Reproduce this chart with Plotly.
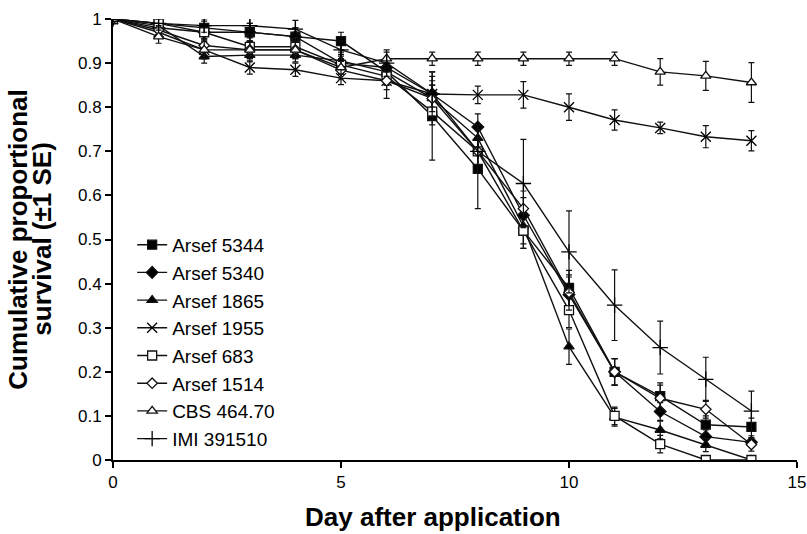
import plotly.graph_objects as go

days = list(range(15))

names = ["Arsef 5344", "Arsef 5340", "Arsef 1865", "Arsef 1955",
         "Arsef 683", "Arsef 1514", "CBS 464.70", "IMI 391510"]

arsef_5344 = [1, 0.99, 0.98, 0.97, 0.96, 0.95, 0.88, 0.78, 0.66, 0.52, 0.39, 0.20, 0.145, 0.08, 0.075]
arsef_5340 = [1, 0.98, 0.97, 0.97, 0.96, 0.90, 0.89, 0.83, 0.755, 0.555, 0.375, 0.20, 0.11, 0.053, 0.04]
arsef_1865 = [1, 0.985, 0.915, 0.918, 0.918, 0.905, 0.88, 0.82, 0.73, 0.53, 0.257, 0.097, 0.068, 0.034, 0.0]
arsef_1955 = [1, 0.97, 0.93, 0.89, 0.885, 0.866, 0.86, 0.83, 0.828, 0.828, 0.80, 0.771, 0.753, 0.733, 0.724]
arsef_683 = [1, 0.99, 0.97, 0.937, 0.937, 0.896, 0.87, 0.79, 0.70, 0.52, 0.34, 0.10, 0.036, 0.0, 0.0]
arsef_1514 = [1, 0.975, 0.94, 0.93, 0.93, 0.884, 0.86, 0.82, 0.70, 0.57, 0.38, 0.20, 0.14, 0.115, 0.035]
cbs_46470 = [1, 0.96, 0.93, 0.93, 0.93, 0.89, 0.91, 0.91, 0.91, 0.91, 0.91, 0.91, 0.88, 0.871, 0.856]
imi_391510 = [1, 0.99, 0.985, 0.985, 0.977, 0.93, 0.90, 0.83, 0.70, 0.627, 0.472, 0.351, 0.255, 0.183, 0.111]

se_5344 = [0, 0.01, 0.015, 0.02, 0.02, 0.02, 0.03, 0.10, 0.09, 0.04, 0.04, 0.03, 0.03, 0.02, 0.02]
se_5340 = [0, 0.01, 0.015, 0.02, 0.02, 0.02, 0.02, 0.03, 0.03, 0.04, 0.04, 0.03, 0.02, 0.015, 0.01]
se_1865 = [0, 0.01, 0.015, 0.015, 0.015, 0.02, 0.02, 0.03, 0.03, 0.04, 0.04, 0.02, 0.02, 0.015, 0.0]
se_1955 = [0, 0.01, 0.02, 0.015, 0.015, 0.015, 0.04, 0.04, 0.02, 0.03, 0.03, 0.023, 0.013, 0.025, 0.023]
se_683 = [0, 0.01, 0.015, 0.02, 0.02, 0.02, 0.02, 0.03, 0.03, 0.04, 0.04, 0.02, 0.02, 0.005, 0.0]
se_1514 = [0, 0.01, 0.015, 0.02, 0.02, 0.02, 0.02, 0.03, 0.03, 0.04, 0.04, 0.03, 0.03, 0.02, 0.015]
se_cbs = [0, 0.015, 0.02, 0.02, 0.02, 0.015, 0.015, 0.015, 0.015, 0.015, 0.015, 0.015, 0.03, 0.033, 0.045]
se_imi = [0, 0.01, 0.015, 0.02, 0.02, 0.02, 0.03, 0.05, 0.05, 0.10, 0.093, 0.08, 0.06, 0.05, 0.045]

x_ticks = [0, 5, 10, 15]
y_ticks = [0, 0.1, 0.2, 0.3, 0.4, 0.5, 0.6, 0.7, 0.8, 0.9, 1]
y_tick_labels = ["0", "0.1", "0.2", "0.3", "0.4", "0.5", "0.6", "0.7", "0.8", "0.9", "1"]

x_title = "Day after application"
y_title_lines = ["Cumulative proportional", "survival (±1 SE)"]

series = [arsef_5344, arsef_5340, arsef_1865, arsef_1955, arsef_683, arsef_1514, cbs_46470, imi_391510]
errors = [se_5344, se_5340, se_1865, se_1955, se_683, se_1514, se_cbs, se_imi]

# (symbol, fill colour, size)
marker_styles = [
    ("square", "black", 9),
    ("diamond", "black", 9),
    ("triangle-up", "black", 9),
    ("x-thin-open", "black", 10),
    ("square", "white", 9),
    ("diamond", "white", 8),
    ("triangle-up", "white", 9),
    ("cross-thin-open", "black", 11),
]

fig = go.Figure()
for name, ys, es, (sym, fillc, sz) in zip(names, series, errors, marker_styles):
    fig.add_trace(go.Scatter(
        x=days, y=ys, name=name, mode="lines+markers",
        line=dict(color="#111111", width=1.4),
        marker=dict(symbol=sym, color=fillc, size=sz,
                    line=dict(color="#111111", width=1.3)),
        error_y=dict(type="data", array=es, visible=True,
                     color="#111111", thickness=1.2, width=3),
    ))

font_family = "Liberation Sans, Arial, sans-serif"
fig.update_layout(
    width=807, height=534,
    margin=dict(l=113, r=10, t=19, b=74),
    paper_bgcolor="white", plot_bgcolor="white",
    font=dict(family=font_family, size=17, color="black"),
    showlegend=True,
    legend=dict(x=0.028, y=0.531, xanchor="left", yanchor="top",
                bgcolor="rgba(0,0,0,0)", font=dict(size=19),
                itemwidth=30, tracegroupgap=0),
    xaxis=dict(range=[0, 15], tickvals=x_ticks, showgrid=False, automargin=False,
               zeroline=False, showline=True, linecolor="black", linewidth=2,
               ticks="outside", ticklen=6, tickcolor="black", tickwidth=2,
               tickfont=dict(size=17)),
    yaxis=dict(range=[0, 1], tickvals=y_ticks, ticktext=y_tick_labels, automargin=False,
               showgrid=False, zeroline=False, showline=True, linecolor="black",
               linewidth=2, ticks="outside", ticklen=6, tickcolor="black", tickwidth=2,
               tickfont=dict(size=17)),
)

# Axis titles as annotations (paper coordinates)
fig.add_annotation(text="<b>" + x_title + "</b>", xref="paper", yref="paper",
                   x=0.468, y=-0.129, xanchor="center", yanchor="middle",
                   showarrow=False, font=dict(size=26))
fig.add_annotation(text="<b>" + y_title_lines[0] + "</b>", xref="paper", yref="paper",
                   x=-0.14, y=0.5, xanchor="center", yanchor="middle", textangle=-90,
                   showarrow=False, font=dict(size=26))
fig.add_annotation(text="<b>" + y_title_lines[1] + "</b>", xref="paper", yref="paper",
                   x=-0.105, y=0.5, xanchor="center", yanchor="middle", textangle=-90,
                   showarrow=False, font=dict(size=26))

fig.write_html("out.html", config={"displayModeBar": False},
               post_script="document.body.style.margin='0';")
